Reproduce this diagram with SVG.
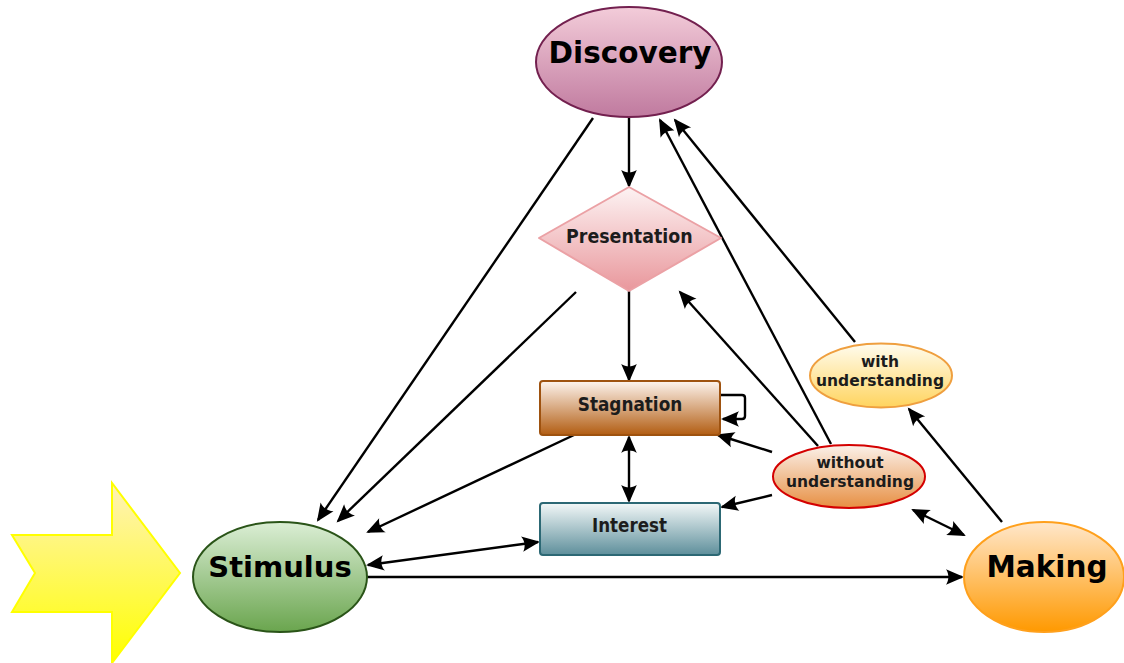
<svg xmlns="http://www.w3.org/2000/svg" width="1124" height="663" viewBox="0 0 1124 663">
  <defs>
    <linearGradient id="gDiscovery" x1="0" y1="0" x2="0" y2="1">
      <stop offset="0" stop-color="#f3ccd9"/>
      <stop offset="1" stop-color="#c07a9f"/>
    </linearGradient>
    <linearGradient id="gPresentation" x1="0" y1="0" x2="0" y2="1">
      <stop offset="0" stop-color="#fdf3f3"/>
      <stop offset="1" stop-color="#e9979c"/>
    </linearGradient>
    <linearGradient id="gStagnation" x1="0" y1="0" x2="0" y2="1">
      <stop offset="0" stop-color="#fdf4ee"/>
      <stop offset="1" stop-color="#b25d12"/>
    </linearGradient>
    <linearGradient id="gInterest" x1="0" y1="0" x2="0" y2="1">
      <stop offset="0" stop-color="#f3f8f8"/>
      <stop offset="1" stop-color="#5e8f9b"/>
    </linearGradient>
    <linearGradient id="gWith" x1="0" y1="0" x2="0" y2="1">
      <stop offset="0" stop-color="#fffcef"/>
      <stop offset="1" stop-color="#ffd45e"/>
    </linearGradient>
    <linearGradient id="gWithout" x1="0" y1="0" x2="0" y2="1">
      <stop offset="0" stop-color="#fbf1ea"/>
      <stop offset="1" stop-color="#e78f42"/>
    </linearGradient>
    <linearGradient id="gStimulus" x1="0" y1="0" x2="0" y2="1">
      <stop offset="0" stop-color="#dbeed5"/>
      <stop offset="1" stop-color="#6aa54e"/>
    </linearGradient>
    <linearGradient id="gMaking" x1="0" y1="0" x2="0" y2="1">
      <stop offset="0" stop-color="#ffe7cb"/>
      <stop offset="1" stop-color="#ff9900"/>
    </linearGradient>
    <linearGradient id="gInput" x1="0" y1="0" x2="0" y2="1">
      <stop offset="0" stop-color="#fff2b8"/>
      <stop offset="1" stop-color="#ffff00"/>
    </linearGradient>
    <marker id="arrow" viewBox="-19 -10 21 20" refX="-1" refY="0" markerWidth="21" markerHeight="20" markerUnits="userSpaceOnUse" orient="auto-start-reverse">
      <path d="M1,0 L-17,-7.8 C-13.8,-3 -13.8,3 -17,7.8 Z" fill="#000"/>
    </marker>
  </defs>
  <style>
    .big { font-family: "DejaVu Sans", "Liberation Sans", sans-serif; font-weight: bold; fill: #000; text-anchor: middle; }
    .lbl { font-family: "DejaVu Sans Condensed", "DejaVu Sans", "Liberation Sans", sans-serif; font-stretch: condensed; font-weight: bold; font-size: 19px; fill: #1c1c1c; text-anchor: middle; }
    .sub { font-family: "DejaVu Sans", "Liberation Sans", sans-serif; font-weight: bold; font-size: 15.5px; fill: #1c1c1c; text-anchor: middle; }
    .edge { fill: none; stroke: #000; stroke-width: 2.4; }
    .one { marker-end: url(#arrow); }
    .two { marker-start: url(#arrow); marker-end: url(#arrow); }
  </style>

  <!-- incoming stimulus arrow -->
  <g id="input">
    <polygon points="12,535 112,535 112,483 180,573 112,663 112,612 12,612 35,573" fill="url(#gInput)" stroke="#ffff00" stroke-width="2"/>
  </g>

  <g id="connectors">
    <line class="edge one" x1="629" y1="118" x2="629" y2="186"/>
    <line class="edge one" x1="629" y1="291" x2="629" y2="380"/>
    <line class="edge two" x1="629" y1="437" x2="629" y2="501"/>
    <line class="edge one" x1="593" y1="118" x2="318" y2="520"/>
    <line class="edge one" x1="576" y1="292" x2="338" y2="521"/>
    <line class="edge one" x1="574" y1="435" x2="368" y2="532"/>
    <line class="edge two" x1="368" y1="565" x2="538" y2="542"/>
    <line class="edge one" x1="367" y1="577" x2="962" y2="577"/>
    <path class="edge one" d="M721,395 H742 Q745,395 745,398 V416 Q745,419 742,419 H723" stroke-linejoin="round"/>
    <line class="edge one" x1="772" y1="452" x2="718" y2="435"/>
    <line class="edge one" x1="772" y1="495" x2="722" y2="507"/>
    <line class="edge one" x1="818" y1="446" x2="680" y2="292"/>
    <line class="edge one" x1="831" y1="444" x2="660" y2="120"/>
    <line class="edge one" x1="855" y1="342" x2="675" y2="120"/>
    <line class="edge one" x1="1002" y1="522" x2="909" y2="409"/>
    <line class="edge two" x1="913" y1="510" x2="964" y2="535"/>
  </g>

  <g id="discovery">
    <ellipse cx="629" cy="62" rx="93" ry="55" fill="url(#gDiscovery)" stroke="#73204f" stroke-width="2"/>
    <text class="big" x="630" y="63" font-size="29.5">Discovery</text>
  </g>

  <g id="presentation">
    <polygon points="629,187 721,238 629,291 539,238" fill="url(#gPresentation)" stroke="#eba1a5" stroke-width="2" stroke-linejoin="round"/>
    <text class="lbl" x="629.3" y="242.5" textLength="126.5" lengthAdjust="spacingAndGlyphs">Presentation</text>
  </g>

  <g id="stagnation">
    <rect x="540" y="381" width="180" height="54" rx="3" fill="url(#gStagnation)" stroke="#9e520f" stroke-width="2"/>
    <text class="lbl" x="630" y="410.5" textLength="104.5" lengthAdjust="spacingAndGlyphs">Stagnation</text>
  </g>

  <g id="interest">
    <rect x="540" y="503" width="180" height="52" rx="3" fill="url(#gInterest)" stroke="#2c6874" stroke-width="2"/>
    <text class="lbl" x="629.5" y="531.5" textLength="75" lengthAdjust="spacingAndGlyphs">Interest</text>
  </g>

  <g id="with-understanding">
    <ellipse cx="881" cy="375.5" rx="71" ry="32" fill="url(#gWith)" stroke="#ef9f3f" stroke-width="2"/>
    <text class="sub" x="880" y="367">with</text>
    <text class="sub" x="880" y="386">understanding</text>
  </g>

  <g id="without-understanding">
    <ellipse cx="849" cy="476.5" rx="76" ry="31.5" fill="url(#gWithout)" stroke="#d40000" stroke-width="2"/>
    <text class="sub" x="850" y="468">without</text>
    <text class="sub" x="850" y="487">understanding</text>
  </g>

  <g id="stimulus">
    <ellipse cx="280" cy="577" rx="87" ry="55" fill="url(#gStimulus)" stroke="#2a5418" stroke-width="2"/>
    <text class="big" x="280" y="577" font-size="29">Stimulus</text>
  </g>

  <g id="making">
    <ellipse cx="1044" cy="577" rx="80" ry="55" fill="url(#gMaking)" stroke="#ffa01c" stroke-width="2"/>
    <text class="big" x="1047" y="577" font-size="29.5">Making</text>
  </g>
</svg>
